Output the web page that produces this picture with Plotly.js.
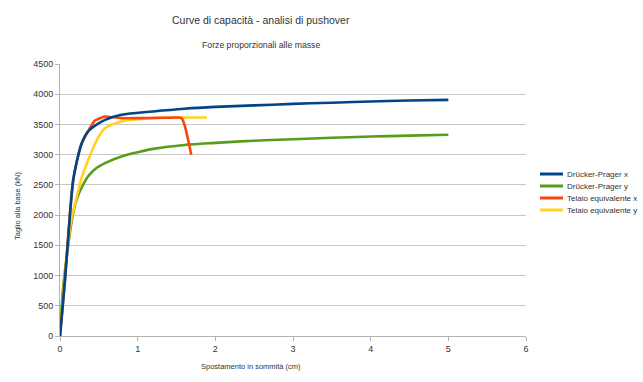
<!DOCTYPE html>
<html><head><meta charset="utf-8">
<script src="https://cdn.plot.ly/plotly-3.0.1.min.js"></script>
<style>html,body{margin:0;padding:0;background:#fff}#c{width:643px;height:382px}</style>
</head><body><div id="c"></div>
<script>
const seriesNames = ["Drücker-Prager x","Drücker-Prager y","Telaio equivalente x","Telaio equivalente y"];
const dpxX = [0,0.064,0.129,0.17,0.215,0.28,0.36,0.45,0.58,0.79,1.2,1.6,2.0,2.5,3.0,3.5,4.0,4.5,5.0];
const dpxY = [0,930,2030,2580,2880,3190,3383,3480,3576,3659,3715,3760,3790,3815,3840,3860,3880,3895,3907];
const dpyX = [0,0.04,0.086,0.15,0.2,0.25,0.3,0.36,0.45,0.58,0.79,1.0,1.22,1.6,2.0,2.5,3.0,3.5,4.0,4.5,5.0];
const dpyY = [0,800,1300,1900,2200,2380,2510,2638,2760,2859,2969,3040,3100,3160,3195,3230,3255,3280,3300,3315,3330];
const texX = [0,0.064,0.129,0.17,0.215,0.28,0.36,0.45,0.58,0.66,0.79,1.0,1.3,1.52,1.57,1.61,1.65,1.69];
const texY = [0,930,2030,2580,2880,3190,3383,3565,3631,3620,3604,3604,3610,3615,3600,3465,3245,3000];
const teyX = [0,0.05,0.1,0.15,0.215,0.28,0.36,0.43,0.49,0.58,0.79,1.0,1.22,1.5,1.89];
const teyY = [0,800,1500,1950,2300,2620,2900,3120,3280,3438,3548,3585,3604,3614,3614];
const xTicks = [0,1,2,3,4,5,6];
const yTicks = [0,500,1000,1500,2000,2500,3000,3500,4000,4500];
const colors = ["#004586","#579d1c","#ff420e","#ffd320"];

const FONT = '"Liberation Sans", Arial, sans-serif';
const xs=[dpxX,dpyX,texX,teyX], ys=[dpxY,dpyY,texY,teyY];
const smooth=[1,1,0.5,1];
const order=[1,3,2,0];
const traces = order.map(i=>({x:xs[i],y:ys[i],name:seriesNames[i],mode:'lines',type:'scatter',showlegend:false,
  line:{color:colors[i],width:2.6,shape:'spline',smoothing:smooth[i]}}));

const L=60,R=526,T=64,B=336;
const px = v=>(v-L)/(R-L), py = v=>(B-v)/(B-T);
const rows=[174,186,198,210];
const shapes=[], legAnn=[];
seriesNames.forEach((n,i)=>{
  shapes.push({type:'line',xref:'paper',yref:'paper',x0:px(540),x1:px(563),y0:py(rows[i]),y1:py(rows[i]),line:{color:colors[i],width:3}});
  legAnn.push({text:n,xref:'paper',yref:'paper',x:px(565),y:py(rows[i]),xanchor:'left',yanchor:'middle',showarrow:false,font:{family:FONT,size:8,color:'#333'}});
});

const layout = {
  width:643,height:382,margin:{l:L,r:643-R,t:T,b:382-B},
  paper_bgcolor:'#fff',plot_bgcolor:'#fff',
  font:{family:FONT,size:8,color:'#333'},
  showlegend:false,
  xaxis:{range:[0,6],tickvals:xTicks,showgrid:false,zeroline:false,showline:true,linecolor:'#b3b3b3',linewidth:1,
    ticks:'outside',ticklen:4,tickcolor:'#b3b3b3',tickfont:{family:FONT,size:9,color:'#333'}},
  yaxis:{range:[0,4500],tickvals:yTicks,showgrid:true,gridcolor:'#c8c8c8',gridwidth:1,zeroline:false,showline:true,
    linecolor:'#b3b3b3',linewidth:1,ticks:'outside',ticklen:4,tickcolor:'#b3b3b3',tickfont:{family:FONT,size:9,color:'#333'}},
  shapes:shapes,
  annotations:[
    {text:'Curve di capacità - analisi di pushover',xref:'paper',yref:'paper',x:px(261),y:py(20),xanchor:'center',yanchor:'middle',showarrow:false,font:{family:FONT,size:10.5,color:'#333'}},
    {text:'Forze proporzionali alle masse',xref:'paper',yref:'paper',x:px(261),y:py(45),xanchor:'center',yanchor:'middle',showarrow:false,font:{family:FONT,size:8.7,color:'#333'}},
    {text:'Spostamento in sommità (cm)',xref:'paper',yref:'paper',x:px(251),y:py(366),xanchor:'center',yanchor:'middle',showarrow:false,font:{family:FONT,size:7.5,color:'#333'}},
    {text:'Taglio alla base (kN)',xref:'paper',yref:'paper',x:px(18),y:py(206),xanchor:'center',yanchor:'middle',textangle:-90,showarrow:false,font:{family:FONT,size:7.5,color:'#333'}}
  ].concat(legAnn)
};
Plotly.newPlot('c',traces,layout,{displayModeBar:false,staticPlot:true});
</script></body></html>
